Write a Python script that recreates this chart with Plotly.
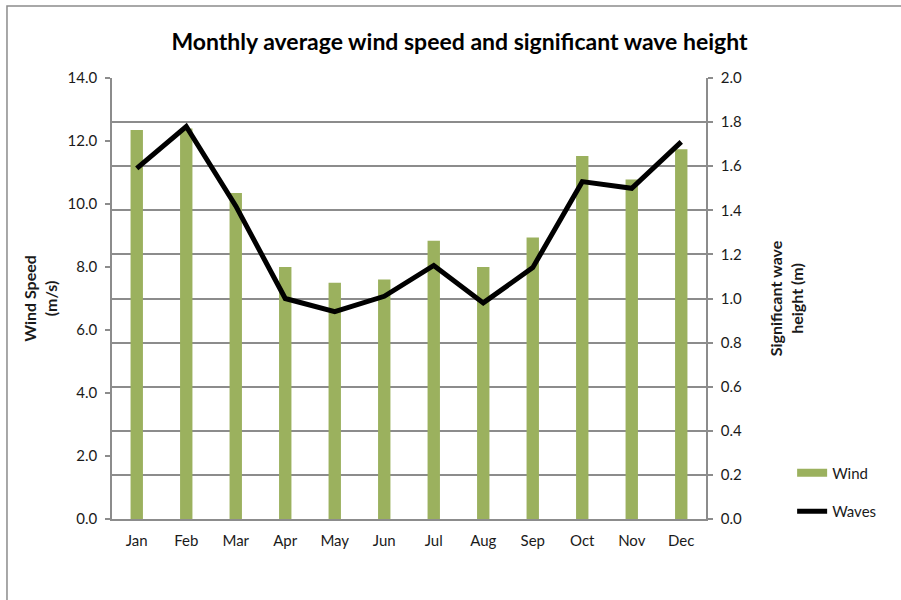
import plotly.graph_objects as go

months = ["Jan", "Feb", "Mar", "Apr", "May", "Jun", "Jul", "Aug", "Sep", "Oct", "Nov", "Dec"]
wind_speed = [12.35, 12.4, 10.35, 8.0, 7.5, 7.6, 8.83, 8.0, 8.94, 11.52, 10.78, 11.74]
wave_height = [1.59, 1.78, 1.42, 1.00, 0.94, 1.01, 1.15, 0.98, 1.14, 1.53, 1.50, 1.71]

left_ticks = [0, 2, 4, 6, 8, 10, 12, 14]
right_ticks = [0.0, 0.2, 0.4, 0.6, 0.8, 1.0, 1.2, 1.4, 1.6, 1.8, 2.0]

FONT = "Lato, 'Open Sans', sans-serif"
AXIS_GREY = "#8c8c8c"
WIND_GREEN = "#9bb15e"

fig = go.Figure()
fig.add_trace(go.Bar(
    x=months, y=wind_speed, name="Wind",
    marker=dict(color=WIND_GREEN, line=dict(width=0)),
    yaxis="y", showlegend=False,
))
fig.add_trace(go.Scatter(
    x=months, y=wave_height, name="Waves", mode="lines",
    line=dict(color="black", width=5),
    yaxis="y2", showlegend=False,
))
# legend entries: a flat green swatch for the bars and a thick black line for the waves
fig.add_trace(go.Scatter(
    x=[None], y=[None], name="Wind", mode="lines",
    line=dict(color=WIND_GREEN, width=8), legendgroup="wind",
))
fig.add_trace(go.Scatter(
    x=[None], y=[None], name="Waves", mode="lines",
    line=dict(color="black", width=5), legendgroup="waves",
))

fig.update_layout(
    width=901, height=600,
    margin=dict(l=112, r=195, t=78, b=81),
    paper_bgcolor="white", plot_bgcolor="white",
    font=dict(family=FONT, size=15, color="#1a1a1a"),
    bargap=0.75,
    title=dict(
        text="<b>Monthly average wind speed and significant wave height</b>",
        x=0.51, xanchor="center", y=0.93, yanchor="middle",
        font=dict(family=FONT, size=23, color="black"),
    ),
    xaxis=dict(
        showgrid=False, showline=True, linecolor=AXIS_GREY, linewidth=1.5,
        ticks="", tickfont=dict(size=15), ticklabelstandoff=7,
    ),
    yaxis=dict(
        range=[0, 14], tickvals=left_ticks,
        ticktext=[f"{v:.1f}" for v in left_ticks],
        showgrid=False, showline=True, linecolor=AXIS_GREY, linewidth=1.5,
        ticks="outside", ticklen=5, tickcolor=AXIS_GREY, tickwidth=1.5,
        ticklabelstandoff=5,
        zeroline=False, automargin=False,
        title=dict(text="<b>Wind Speed<br>(m/s)</b>", font=dict(size=16), standoff=6),
    ),
    yaxis2=dict(
        range=[0, 2], tickvals=right_ticks,
        ticktext=[f"{v:.1f}" for v in right_ticks],
        overlaying="y", side="right",
        showgrid=True, gridcolor=AXIS_GREY, gridwidth=1.5,
        showline=True, linecolor=AXIS_GREY, linewidth=1.5,
        ticks="outside", ticklen=5, tickcolor=AXIS_GREY, tickwidth=1.5,
        ticklabelstandoff=5,
        zeroline=False, automargin=False,
        title=dict(text="<b>Significant wave<br>height (m)</b>", font=dict(size=16), standoff=30),
    ),
    legend=dict(
        x=1.145, xanchor="left", y=0.061, yanchor="middle",
        font=dict(size=15), bgcolor="rgba(0,0,0,0)",
        tracegroupgap=16, itemwidth=30,
    ),
    shapes=[dict(
        type="rect", xref="paper", yref="paper",
        x0=-0.1768, x1=2.0, y0=-1.0, y1=1.1633,
        line=dict(color=AXIS_GREY, width=1.5), fillcolor="rgba(0,0,0,0)",
        layer="below",
    )],
)

fig.write_html("out.html")
